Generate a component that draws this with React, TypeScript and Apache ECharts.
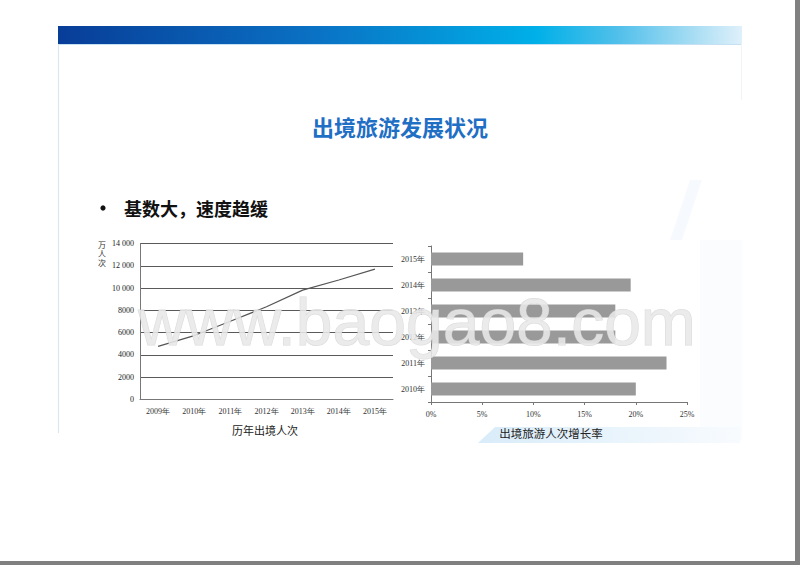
import React, { useEffect, useRef } from 'react';
import * as echarts from 'echarts';

// ---- data ----
const years = ['2009年', '2010年', '2011年', '2012年', '2013年', '2014年', '2015年'];
const travellers = [4766, 5739, 7025, 8318, 9819, 10728, 11700]; // 万人次
const growthYears = ['2010年', '2011年', '2012年', '2013年', '2014年', '2015年'];
const growthRates = [0.2, 0.23, 0.18, 0.18, 0.195, 0.09];

const pageTitle = '出境旅游发展状况';
const bulletText = '基数大，速度趋缓';
const leftTitle = '历年出境人次';
const rightTitle = '出境旅游人次增长率';
const yUnit = '万\n人\n次';
const watermark = 'www.baogao8.com';

const SERIF = '"Liberation Serif", "DejaVu Serif", serif';
const CJK = '"Noto Sans CJK SC", "Noto Sans", sans-serif';

export default function App() {
  const ref = useRef<HTMLDivElement>(null);
  useEffect(() => {
    if (!ref.current) return;
    const chart = echarts.init(ref.current, undefined, { renderer: 'svg' });
    const fmtThousands = (v: number) =>
      v >= 10000 ? `${Math.floor(v / 1000)} ${String(v % 1000).padStart(3, '0')}` : String(v);
    chart.setOption({
      animation: false,
      backgroundColor: '#ffffff',
      grid: [
        { left: 140, top: 243.5, width: 253, height: 156 },
        { left: 431, top: 246, width: 256, height: 156 },
      ],
      xAxis: [
        {
          type: 'category',
          gridIndex: 0,
          data: years,
          boundaryGap: true,
          axisLine: { show: true, lineStyle: { color: '#777', width: 1 } },
          axisTick: { show: false },
          axisLabel: { fontFamily: SERIF, fontSize: 8, color: '#333', margin: 8 },
        },
        {
          type: 'value',
          gridIndex: 1,
          min: 0,
          max: 0.25,
          interval: 0.05,
          axisLine: { show: true, lineStyle: { color: '#777', width: 1 } },
          axisTick: { show: true, length: 3, lineStyle: { color: '#777' } },
          splitLine: { show: false },
          axisLabel: {
            fontFamily: SERIF,
            fontSize: 8,
            color: '#333',
            margin: 8,
            formatter: (v: number) => `${Math.round(v * 100)}%`,
          },
        },
      ],
      yAxis: [
        {
          type: 'value',
          gridIndex: 0,
          min: 0,
          max: 14000,
          interval: 2000,
          axisLine: { show: true, lineStyle: { color: '#777', width: 1 } },
          axisTick: { show: false },
          splitLine: { show: true, lineStyle: { color: '#5a5a5a', width: 1 } },
          axisLabel: { fontFamily: SERIF, fontSize: 8, color: '#222', margin: 6, formatter: fmtThousands },
        },
        {
          type: 'category',
          gridIndex: 1,
          data: growthYears,
          axisLine: { show: true, lineStyle: { color: '#777', width: 1 } },
          axisTick: { show: true, length: 3, lineStyle: { color: '#777' } },
          axisLabel: { fontFamily: SERIF, fontSize: 8, color: '#333', margin: 6 },
        },
      ],
      series: [
        {
          type: 'line',
          xAxisIndex: 0,
          yAxisIndex: 0,
          data: travellers,
          symbol: 'none',
          lineStyle: { color: '#555', width: 1.2 },
        },
        {
          type: 'bar',
          xAxisIndex: 1,
          yAxisIndex: 1,
          data: growthRates,
          barWidth: 13,
          itemStyle: { color: '#999999' },
        },
      ],
      graphic: [
        // faint slide background decorations
        { type: 'polygon', z: -9, shape: { points: [[690, 180], [702, 180], [682, 240], [670, 240]] }, style: { fill: '#f6fafe' } },
        { type: 'rect', z: -9, shape: { x: 700, y: 240, width: 42, height: 200 }, style: { fill: '#fafcfe' } },
        {
          type: 'polygon',
          z: -7,
          shape: { points: [[478, 443], [495, 427], [740, 427], [740, 443]] },
          style: {
            fill: new echarts.graphic.LinearGradient(0, 0, 1, 0, [
              { offset: 0, color: '#d9ecf9' },
              { offset: 0.6, color: '#ebf5fc' },
              { offset: 1, color: '#f8fbfe' },
            ]),
          },
        },
        // top band
        {
          type: 'rect',
          shape: { x: 58, y: 26, width: 684, height: 18 },
          style: {
            fill: new echarts.graphic.LinearGradient(0, 0, 1, 0, [
              { offset: 0, color: '#083d98' },
              { offset: 0.38, color: '#0a72c4' },
              { offset: 0.7, color: '#00b0e8' },
              { offset: 0.82, color: '#52c0ea' },
              { offset: 1, color: '#dff0fa' },
            ]),
          },
        },
        { type: 'line', shape: { x1: 58, y1: 44.5, x2: 742, y2: 44.5 }, style: { stroke: '#c4e0f2', lineWidth: 1 } },
        { type: 'line', shape: { x1: 58.5, y1: 44, x2: 58.5, y2: 433 }, style: { stroke: '#dde6ec', lineWidth: 1.2 } },
        { type: 'line', shape: { x1: 741.5, y1: 44, x2: 741.5, y2: 100 }, style: { stroke: '#eef4f8', lineWidth: 1 } },
        // slide frame shadow
        { type: 'rect', shape: { x: 795, y: 0, width: 5, height: 565 }, style: { fill: '#808080' } },
        { type: 'rect', shape: { x: 0, y: 561, width: 800, height: 4 }, style: { fill: '#808080' } },
        // texts
        {
          type: 'text',
          x: 400,
          y: 126,
          style: { text: pageTitle, fontFamily: CJK, fontWeight: 'bold', fontSize: 22, fill: '#1f6fc5', align: 'center', verticalAlign: 'middle' },
        },
        { type: 'circle', shape: { cx: 103, cy: 208, r: 2.6 }, style: { fill: '#111' } },
        {
          type: 'text',
          x: 124,
          y: 208,
          style: { text: bulletText, fontFamily: CJK, fontWeight: 'bold', fontSize: 18, fill: '#111', align: 'left', verticalAlign: 'middle' },
        },
        {
          type: 'text',
          x: 102,
          y: 240,
          style: { text: yUnit, fontFamily: CJK, fontSize: 8, lineHeight: 9, fill: '#333', align: 'center', verticalAlign: 'top' },
        },
        {
          type: 'text',
          x: 265,
          y: 430,
          style: { text: leftTitle, fontFamily: CJK, fontSize: 11, fill: '#222', align: 'center', verticalAlign: 'middle' },
        },
        {
          type: 'text',
          x: 551,
          y: 433,
          style: { text: rightTitle, fontFamily: CJK, fontSize: 11.5, fill: '#222', align: 'center', verticalAlign: 'middle' },
        },
        // watermark
        {
          type: 'text',
          z: 100,
          x: 417,
          y: 322,
          style: {
            text: watermark,
            fontFamily: '"Liberation Sans", Arial, sans-serif',
            fontSize: 66,
            fill: 'rgba(232,232,232,0.88)',
            stroke: 'rgba(205,205,205,0.7)',
            lineWidth: 1,
            align: 'center',
            verticalAlign: 'middle',
          },
        },
      ],
    });
    return () => chart.dispose();
  }, []);
  return (
    <div
      ref={ref}
      style={{ position: 'fixed', left: 0, top: 0, width: 800, height: 565 }}
    />
  );
}
